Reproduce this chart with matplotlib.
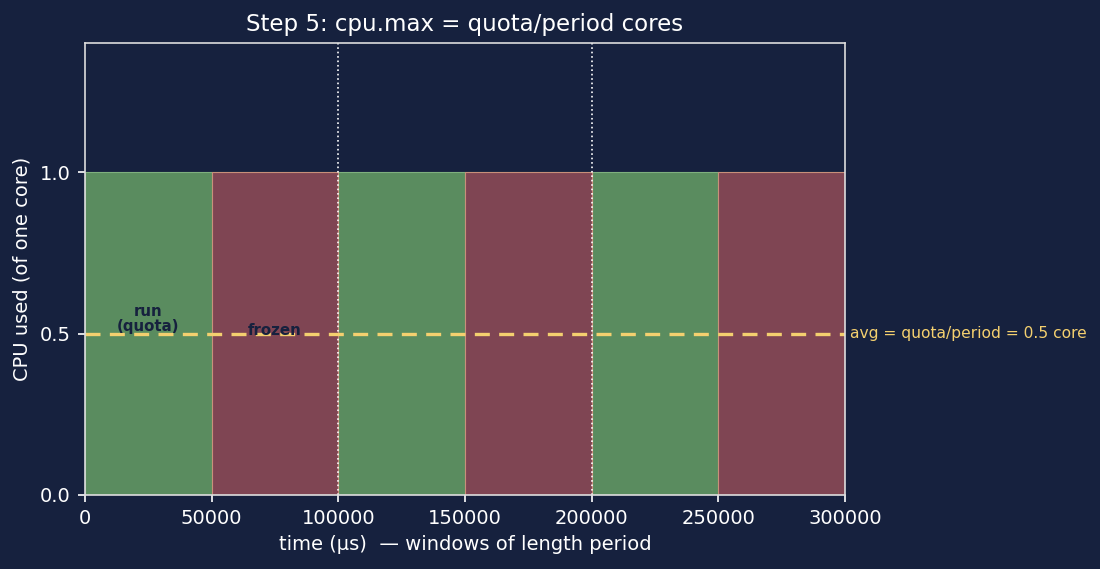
import matplotlib.pyplot as plt

bg = '#16213e'
quota = 50000
period = 100000
n_periods = 3
avg_level = quota / period

run_starts = [0, 100000, 200000]
frozen_starts = [50000, 150000, 250000]
usage = [1.0, 1.0, 1.0]
xticks = [0, 50000, 100000, 150000, 200000, 250000, 300000]
yticks = [0.0, 0.5, 1.0]

fig = plt.figure(figsize=(11, 5.69), dpi=100)
fig.patch.set_facecolor(bg)
ax = fig.add_axes([85 / 1100, 1 - 495 / 569, 760 / 1100, 452 / 569])
ax.set_facecolor(bg)

ax.bar(run_starts, usage, width=quota, align='edge', color='#5a8c5f',
       edgecolor='#7fb07f', linewidth=0.8)
ax.bar(frozen_starts, usage, width=period - quota, align='edge', color='#7f4553',
       edgecolor='#c8907a', linewidth=0.8)

for k in range(1, n_periods):
    ax.axvline(k * period, color='white', linestyle=':', linewidth=1.2)

ax.axhline(avg_level, color='#f4d06f', linestyle='--', linewidth=2.4, dashes=(4.5, 2.8))
ax.text(n_periods * period * 1.007, avg_level, 'avg = quota/period = 0.5 core',
        color='#f4d06f', fontsize=11.2, va='center', ha='left')

ax.text(quota / 2, 0.545, 'run\n(quota)', color='#16213e', fontsize=10.8,
        fontweight='bold', ha='center', va='center', linespacing=1.0)
ax.text(quota + (period - quota) / 2, 0.51, 'frozen', color='#16213e', fontsize=10.8,
        fontweight='bold', ha='center', va='center')

ax.set_xlim(0, n_periods * period)
ax.set_ylim(0, 1.4)
ax.set_xticks(xticks)
ax.set_yticks(yticks)
ax.set_yticklabels(['0.0', '0.5', '1.0'])
ax.tick_params(colors='white', labelsize=14, length=5.2, width=1.2, pad=5)
for s in ax.spines.values():
    s.set_color('#dddddd')
    s.set_linewidth(1.2)

ax.set_title('Step 5: cpu.max = quota/period cores', color='white', fontsize=16.5, pad=9)
ax.set_xlabel('time (µs)  — windows of length period', color='white', fontsize=14, labelpad=5)
ax.set_ylabel('CPU used (of one core)', color='white', fontsize=14, labelpad=6)

fig.savefig('out.png', facecolor=bg)
